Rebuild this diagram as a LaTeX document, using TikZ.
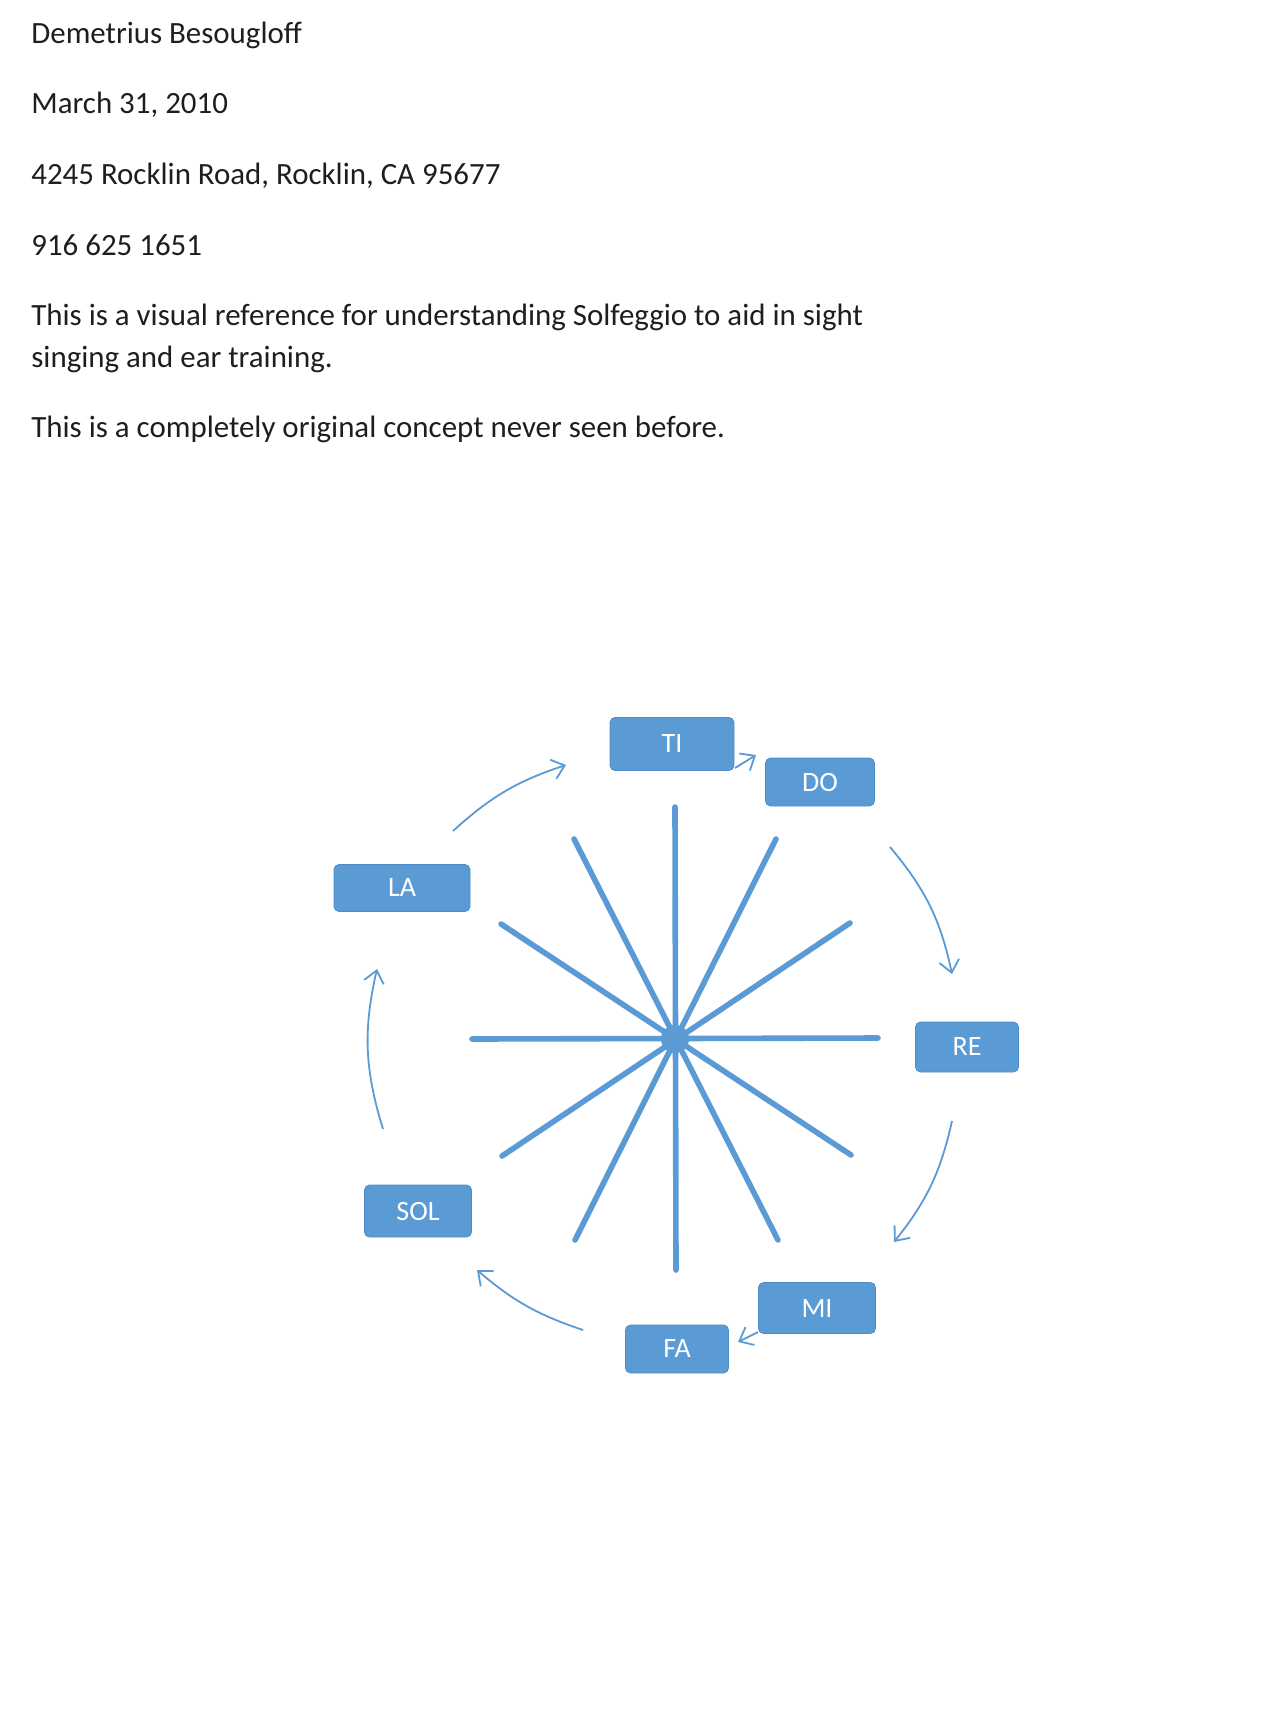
\documentclass[tikz,border=0pt]{standalone}
\usepackage{fontspec}
\setmainfont{Carlito}
\usetikzlibrary{arrows.meta}
\definecolor{sblue}{HTML}{5B9BD5}
\definecolor{sedge}{HTML}{4F8CC6}
\definecolor{txt}{HTML}{1E1E1E}
\tikzset{
  line/.style={text=txt, anchor=base west, inner sep=0pt, font=\fontsize{15.45pt}{18pt}\selectfont},
  notebox/.style={rectangle, rounded corners=2.5pt, fill=sblue, draw=sedge, line width=0.4pt,
    text=white, font=\fontsize{14pt}{16pt}\selectfont, inner sep=0pt},
  spoke/.style={draw=sblue, line width=2.8pt, line cap=round},
  flow/.style={draw=sblue, line width=0.9pt, -{Straight Barb[length=6pt,width=10pt,line width=0.9pt]}}
}
\begin{document}
\begin{tikzpicture}[x=0.5pt,y=-0.5pt]
\useasboundingbox[fill=white] (0,0) rectangle (1274,1731);

% header text
\node[line] (t1) at (31,43) {Demetrius Besougloff};
\node[line] (t2) at (31,113) {March 31, 2010};
\node[line] (t3) at (31,184) {4245 Rocklin Road, Rocklin, CA 95677};
\node[line] (t4) at (31,255) {916 625 1651};
\node[line] (t5) at (31,325) {This is a visual reference for understanding Solfeggio to aid in sight};
\node[line] (t6) at (31,367) {singing and ear training.};
\node[line] (t7) at (31,437) {This is a completely original concept never seen before.};

% star
\coordinate (c) at (675,1039);
\draw[spoke] (675,807) -- (676,1270);
\draw[spoke] (472,1039) -- (878,1038);
\draw[spoke] (574,839) -- (778,1240);
\draw[spoke] (776,839) -- (575,1240);
\draw[spoke] (501,924) -- (851,1155);
\draw[spoke] (850,923) -- (502,1156);
\fill[sblue] (c) circle[radius=14];

% boxes
\node[notebox, minimum width=62pt, minimum height=26.5pt] (ti) at (672,744) {TI};
\node[notebox, minimum width=54.5pt, minimum height=24pt] (do) at (820,782) {DO};
\node[notebox, minimum width=68pt, minimum height=23.5pt] (la) at (402,888) {LA};
\node[notebox, minimum width=51.5pt, minimum height=25pt] (re) at (967,1047) {RE};
\node[notebox, minimum width=53.5pt, minimum height=26pt] (sol) at (418,1211) {SOL};
\node[notebox, minimum width=58.5pt, minimum height=25.5pt] (mi) at (817,1308) {MI};
\node[notebox, minimum width=51.5pt, minimum height=24pt] (fa) at (677,1349) {FA};

% arrow end points
\coordinate (a1s) at (453,831);
\coordinate (a1e) at (566,765);
\coordinate (a2s) at (735,768);
\coordinate (a2e) at (756,755);
\coordinate (a3s) at (890,847);
\coordinate (a3e) at (952,974);
\coordinate (a4s) at (952,1121);
\coordinate (a4e) at (894,1242);
\coordinate (a5s) at (758,1332);
\coordinate (a5e) at (738,1342);
\coordinate (a6s) at (583,1330);
\coordinate (a6e) at (477,1270);
\coordinate (a7s) at (383,1129);
\coordinate (a7e) at (377,969);

\draw[flow] (a1s) to[bend left=12] (a1e);
\draw[flow] (a2s) -- (a2e);
\draw[flow] (a3s) to[bend left=14] (a3e);
\draw[flow] (a4s) to[bend left=13] (a4e);
\draw[flow] (a5s) -- (a5e);
\draw[flow] (a6s) to[bend left=11] (a6e);
\draw[flow] (a7s) to[bend left=15] (a7e);
\end{tikzpicture}
\end{document}
